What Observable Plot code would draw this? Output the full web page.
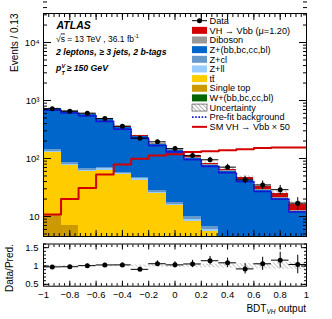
<!DOCTYPE html>
<html><head><meta charset="utf-8">
<script src="https://cdn.jsdelivr.net/npm/d3@7"></script>
<script src="https://cdn.jsdelivr.net/npm/@observablehq/plot@0.6"></script>
<style>
html,body{margin:0;padding:0;background:#fff}
#wrap{position:relative;width:332px;height:319px;overflow:hidden;background:#fff}
#wrap svg{position:absolute;left:0}
</style></head><body><div id="wrap"></div>
<script>
const FONT = '"Liberation Sans", Arial, Helvetica, sans-serif';

// ---- data ----
const binLo = [-1, -0.8667, -0.7333, -0.6, -0.4667, -0.3333, -0.2, -0.0667, 0.0667, 0.2, 0.3333, 0.4667, 0.6, 0.7333, 0.8667];
const binHi = [-0.8667, -0.7333, -0.6, -0.4667, -0.3333, -0.2, -0.0667, 0.0667, 0.2, 0.3333, 0.4667, 0.6, 0.7333, 0.8667, 1];
const dataCounts = [720, 653, 604, 489, 361, 224, 194, 148, 113, 95, 71, 43, 35, 29, 17];
const wjets   = [0.5, 0.4, 0.3, 0.3, 0.2, 0.2, 0.2, 0.1, 0.1, 0.1, 0.1, 0.05, 0.05, 0.05, 0.05];
const stop    = [10, 6.5, 3.5, 3, 2.5, 2, 1.5, 1.2, 1, 0.8, 0.6, 0.4, 0.3, 0.2, 0.1];
const ttbar   = [117, 69, 56, 60, 50, 40, 23, 14, 7.2, 4.6, 2.9, 2.1, 1.5, 1.0, 0.7];
const zll     = [6, 4, 3, 3, 2.5, 2.2, 1.5, 1.1, 0.7, 0.5, 0.35, 0.25, 0.2, 0.15, 0.1];
const zcl     = [7, 4.5, 3.5, 3.5, 3, 2.5, 1.8, 1.3, 0.9, 0.6, 0.45, 0.35, 0.25, 0.2, 0.15];
const zhf     = [579, 565, 517, 392, 280, 190, 146, 118, 90, 70, 55, 38, 25.6, 18.5, 10.7];
const diboson = [18, 16, 14, 12, 10, 7, 6, 5, 4, 3.2, 2.6, 2, 1.5, 1.2, 0.8];
const vhFit   = [0.26, 0.48, 0.74, 1.27, 1.9, 2.4, 2.7, 2.8, 3.1, 3.2, 3.3, 3.5, 3.6, 3.7, 3.7];
const smVHx50 = [10.8, 20, 31, 53, 79, 99, 113, 118, 129, 134, 139, 145, 151, 155, 155];
const prefitBkg = [680, 610, 545, 435, 320, 225, 167, 130, 96, 73, 57, 40, 27, 20, 12];
const relUnc  = [0.02, 0.02, 0.02, 0.02, 0.025, 0.03, 0.035, 0.04, 0.045, 0.05, 0.06, 0.07, 0.08, 0.09, 0.1];

const xMajor = [-1, -0.8, -0.6, -0.4, -0.2, 0, 0.2, 0.4, 0.6, 0.8, 1];
const xTickLabels = ["\u22121", "\u22120.8", "\u22120.6", "\u22120.4", "\u22120.2", "0", "0.2", "0.4", "0.6", "0.8", "1"];
const yMajor = [10, 100, 1000, 10000];
const yTickLabels = ["10", "10\u00b2", "10\u00b3", "10\u2074"];
const rMajor = [0.5, 1, 1.5];
const rTickLabels = ["0.5", "1", "1.5"];

const colors = {
  vh: "#d40000", diboson: "#999999", zhf: "#0066cc", zcl: "#6699cc", zll: "#99ccff",
  tt: "#ffcc00", stop: "#cc9a00", whf: "#006600"
};

// stacking order bottom -> top
const layers = [
  {name: "whf", color: colors.whf, values: wjets},
  {name: "stop", color: colors.stop, values: stop},
  {name: "tt", color: colors.tt, values: ttbar},
  {name: "zll", color: colors.zll, values: zll},
  {name: "zcl", color: colors.zcl, values: zcl},
  {name: "zhf", color: colors.zhf, values: zhf},
  {name: "diboson", color: colors.diboson, values: diboson},
  {name: "vh", color: colors.vh, values: vhFit}
];

const rows = binLo.map((lo, i) => ({lo, hi: binHi[i], c: (lo + binHi[i]) / 2, n: dataCounts[i], u: relUnc[i]}));
const base = rows.map(() => 0.01);
const stackRows = [];
for (const L of layers) {
  rows.forEach((r, i) => {
    const y1 = base[i], y2 = base[i] + L.values[i];
    stackRows.push({lo: r.lo, hi: r.hi, y1, y2, layer: L.name});
    base[i] = y2;
  });
}
rows.forEach((r, i) => { r.tot = base[i]; r.ratio = r.n / r.tot; r.rerr = Math.sqrt(r.n) / r.tot; });
const steps = vals => binLo.map((x, i) => ({x, y: vals[i]})).concat([{x: 1, y: vals[vals.length - 1]}]);

const xMinor = d3.range(-1, 1.0001, 0.04);
const yMinor = [];
for (const d of [1, 10, 100, 1000, 10000]) for (let k = 2; k <= 9; k++) yMinor.push(d * k);
const rMinor = d3.range(0.5, 1.61, 0.1);

const wrap = document.getElementById("wrap");
const blank = () => "";
const ticksX = (maj, minLen, majLen) => [
  Plot.axisX({anchor: "bottom", ticks: xMinor, tickSize: -minLen, tickFormat: blank, label: null}),
  Plot.axisX({anchor: "bottom", ticks: maj, tickSize: -majLen, tickFormat: blank, label: null}),
  Plot.axisX({anchor: "top", ticks: xMinor, tickSize: -minLen, tickFormat: blank, label: null}),
  Plot.axisX({anchor: "top", ticks: maj, tickSize: -majLen, tickFormat: blank, label: null})
];
const ticksY = (maj, mins, minLen, majLen) => [
  Plot.axisY({anchor: "left", ticks: mins, tickSize: -minLen, tickFormat: blank, label: null}),
  Plot.axisY({anchor: "left", ticks: maj, tickSize: -majLen, tickFormat: blank, label: null}),
  Plot.axisY({anchor: "right", ticks: mins, tickSize: -minLen, tickFormat: blank, label: null}),
  Plot.axisY({anchor: "right", ticks: maj, tickSize: -majLen, tickFormat: blank, label: null})
];

// ---- main panel ----
const main = Plot.plot({
  width: 332, height: 237,
  marginTop: 13, marginBottom: 1, marginLeft: 43, marginRight: 26,
  style: {fontFamily: FONT, fontSize: "9.5px", background: "transparent", color: "black"},
  x: {domain: [-1, 1]},
  y: {type: "log", domain: [4.52, 31623]},
  marks: [
    ...layers.map(L => Plot.rect(stackRows.filter(d => d.layer === L.name),
      {x1: "lo", x2: "hi", y1: "y1", y2: "y2", fill: L.color, clip: true, shapeRendering: "crispEdges"})),
    Plot.rect(rows, {x1: "lo", x2: "hi", y1: d => d.tot * (1 - d.u), y2: d => d.tot * (1 + d.u), fill: "url(#hatchMain)", clip: true}),
    Plot.line(steps(prefitBkg), {x: "x", y: "y", curve: "step-after", stroke: "#1414d2", strokeWidth: 1.7, strokeDasharray: "1.6,1.6", clip: true}),
    Plot.line(steps(smVHx50), {x: "x", y: "y", curve: "step-after", stroke: "#d40000", strokeWidth: 2, clip: true}),
    Plot.ruleY(rows, {y: "n", x1: "lo", x2: "hi", stroke: "black", strokeWidth: 1, clip: true}),
    Plot.ruleX(rows, {x: "c", y1: d => d.n - Math.sqrt(d.n), y2: d => d.n + Math.sqrt(d.n), stroke: "black", strokeWidth: 1, clip: true}),
    Plot.dot(rows, {x: "c", y: "n", r: 2.5, fill: "black", stroke: "none"}),
    Plot.frame({stroke: "black", strokeWidth: 1}),
    ...ticksX(xMajor, 3, 6),
    ...ticksY(yMajor, yMinor, 4, 8),
    Plot.axisY({anchor: "left", ticks: yMajor, tickSize: 0, tickPadding: 4, tickFormat: d => yTickLabels[yMajor.indexOf(d)], label: null, fontSize: 9.5}),
    Plot.text(["Events / 0.13"], {frameAnchor: "top-left", text: d => d, rotate: -90, textAnchor: "end", dx: -33, fontSize: 10})
  ]
});
main.style.top = "0px";
d3.select(main).insert("defs", ":first-child").html(
  '<pattern id="hatchMain" patternUnits="userSpaceOnUse" width="3" height="3" patternTransform="rotate(-45)"><line x1="0" y1="0" x2="0" y2="3" stroke="#555" stroke-width="0.8"/></pattern>');
wrap.appendChild(main);

// ---- ratio panel ----
const ratio = Plot.plot({
  width: 332, height: 83,
  marginTop: 7.5, marginBottom: 33.3, marginLeft: 43, marginRight: 26,
  style: {fontFamily: FONT, fontSize: "9.5px", background: "transparent", color: "black"},
  x: {domain: [-1, 1]},
  y: {domain: [0.45, 1.6]},
  marks: [
    Plot.rect(rows, {x1: "lo", x2: "hi", y1: d => 1 - d.u, y2: d => 1 + d.u, fill: "url(#hatchRatio)", clip: true}),
    Plot.ruleY(rows, {y: "ratio", x1: "lo", x2: "hi", stroke: "black", strokeWidth: 1, clip: true}),
    Plot.ruleX(rows, {x: "c", y1: d => d.ratio - d.rerr, y2: d => d.ratio + d.rerr, stroke: "black", strokeWidth: 1, clip: true}),
    Plot.dot(rows, {x: "c", y: "ratio", r: 2.5, fill: "black", stroke: "none"}),
    Plot.frame({stroke: "black", strokeWidth: 1}),
    ...ticksX(xMajor, 2.5, 5),
    ...ticksY(rMajor, rMinor, 3, 6),
    Plot.axisX({anchor: "bottom", ticks: xMajor, tickSize: 0, tickPadding: 5, tickFormat: d => xTickLabels[xMajor.indexOf(d)], label: null, fontSize: 9.5}),
    Plot.axisY({anchor: "left", ticks: rMajor, tickSize: 0, tickPadding: 5, tickFormat: d => rTickLabels[rMajor.indexOf(d)], label: null, fontSize: 9.5}),
    Plot.text(["Data/Pred."], {frameAnchor: "left", text: d => d, rotate: -90, textAnchor: "middle", dx: -34, dy: 3, fontSize: 10})
  ]
});
ratio.style.top = "236px";
d3.select(ratio).insert("defs", ":first-child").html(
  '<pattern id="hatchRatio" patternUnits="userSpaceOnUse" width="3" height="3" patternTransform="rotate(-45)"><line x1="0" y1="0" x2="0" y2="3" stroke="#777" stroke-width="0.8"/></pattern>');
wrap.appendChild(ratio);

// ---- overlay: labels and legend ----
const ov = d3.select(wrap).append("svg").attr("width", 332).attr("height", 319)
  .style("top", "0px").style("pointer-events", "none").style("font-family", FONT);
ov.append("defs").html('<pattern id="hatchLeg" patternUnits="userSpaceOnUse" width="3" height="3" patternTransform="rotate(-45)"><line x1="0" y1="0" x2="0" y2="3" stroke="#444" stroke-width="0.8"/></pattern>');

ov.append("text").attr("x", 56.5).attr("y", 29).attr("font-size", 10.5).attr("font-weight", "bold").attr("font-style", "italic").text("ATLAS");
const s1 = ov.append("text").attr("x", 56).attr("y", 41.5).attr("font-size", 8.5);
s1.append("tspan").text("\u221a");
s1.append("tspan").attr("text-decoration", "overline").text("s");
s1.append("tspan").text(" = 13 TeV , 36.1 fb");
s1.append("tspan").attr("dy", -3.5).attr("font-size", 5.5).text("-1");
ov.append("text").attr("x", 56).attr("y", 54.5).attr("font-size", 8.7).attr("font-weight", "bold").attr("font-style", "italic").text("2 leptons, \u2265 3 jets, 2 b-tags");
const pt = ov.append("g").attr("font-weight", "bold").attr("font-style", "italic");
pt.append("text").attr("x", 56).attr("y", 70.5).attr("font-size", 8.7).text("p");
pt.append("text").attr("x", 61.5).attr("y", 67.5).attr("font-size", 5.5).text("V");
pt.append("text").attr("x", 61.5).attr("y", 74.5).attr("font-size", 5.5).text("T");
pt.append("text").attr("x", 66.5).attr("y", 70.5).attr("font-size", 8.7).text("\u2265 150 GeV");

const xt = ov.append("text").attr("x", 306).attr("y", 312).attr("text-anchor", "end").attr("font-size", 10);
xt.append("tspan").text("BDT");
xt.append("tspan").attr("dy", 2).attr("font-size", 6.5).attr("font-style", "italic").text("VH");
xt.append("tspan").attr("dy", -2).text(" output");

const legendItems = [
  {label: "Data", kind: "data"},
  {label: "VH \u2192 Vbb (\u03bc=1.20)", kind: "fill", color: colors.vh},
  {label: "Diboson", kind: "fill", color: colors.diboson},
  {label: "Z+(bb,bc,cc,bl)", kind: "fill", color: colors.zhf},
  {label: "Z+cl", kind: "fill", color: colors.zcl},
  {label: "Z+ll", kind: "fill", color: colors.zll},
  {label: "t\u0074\u0304", kind: "fill", color: colors.tt},
  {label: "Single top", kind: "fill", color: colors.stop},
  {label: "W+(bb,bc,cc,bl)", kind: "fill", color: colors.whf},
  {label: "Uncertainty", kind: "hatch"},
  {label: "Pre-fit background", kind: "dotted"},
  {label: "SM VH \u2192 Vbb \u00d7 50", kind: "line"}
];
legendItems.forEach((it, i) => {
  const cy = 20.7 + i * 9.65;
  const g = ov.append("g");
  if (it.kind === "data") {
    g.append("line").attr("x1", 192).attr("x2", 207).attr("y1", cy).attr("y2", cy).attr("stroke", "black");
    g.append("circle").attr("cx", 199.5).attr("cy", cy).attr("r", 2.5).attr("fill", "black");
  } else if (it.kind === "fill") {
    g.append("rect").attr("x", 192).attr("y", cy - 3.5).attr("width", 15).attr("height", 7).attr("fill", it.color);
  } else if (it.kind === "hatch") {
    g.append("rect").attr("x", 192).attr("y", cy - 3.5).attr("width", 15).attr("height", 7).attr("fill", "url(#hatchLeg)").attr("stroke", "#333").attr("stroke-width", 0.6);
  } else if (it.kind === "dotted") {
    g.append("line").attr("x1", 192).attr("x2", 207).attr("y1", cy).attr("y2", cy).attr("stroke", "#1414d2").attr("stroke-width", 1.7).attr("stroke-dasharray", "1.6,1.6");
  } else {
    g.append("line").attr("x1", 192).attr("x2", 207).attr("y1", cy).attr("y2", cy).attr("stroke", "#d40000").attr("stroke-width", 2);
  }
  g.append("text").attr("x", 209.5).attr("y", cy + 3.2).attr("font-size", 9.2).text(it.label);
});
</script></body></html>
